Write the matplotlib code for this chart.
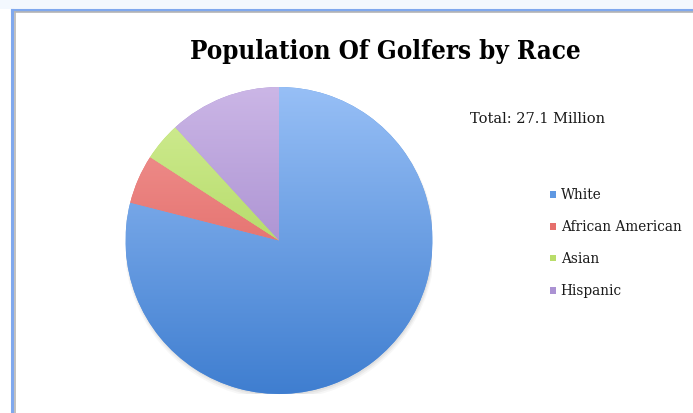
import numpy as np
import matplotlib.pyplot as plt
from matplotlib.colors import LinearSegmentedColormap
from matplotlib.lines import Line2D
from matplotlib.patches import Rectangle, Circle

races = ['White', 'African American', 'Asian', 'Hispanic']
golfers = [21.4, 1.4, 1.1, 3.2]   # millions
top_cols = ['#97bff6', '#f39a98', '#d3ee97', '#cbb6e6']
bot_cols = ['#3f7ed0', '#d9514d', '#9ccb42', '#9275c2']
mid_cols = ['#5f98e2', '#e66f6c', '#b9dd6a', '#ab92d3']

fig = plt.figure(figsize=(6.93, 4.14), dpi=100)

# window frame
fig.add_artist(Rectangle((0, 0.975), 1, 0.025, transform=fig.transFigure,
                         facecolor='#f3f8fe', edgecolor='none'))
fig.add_artist(Line2D([0.0166, 0.0166], [0, 0.9746], color='#7fa8ee', lw=2.2))
fig.add_artist(Line2D([0.0166, 1], [0.9746, 0.9746], color='#7fa8ee', lw=2.2))
fig.add_artist(Line2D([0.0211, 0.0211], [0, 0.9674], color='#b5b5b5', lw=1.2))
fig.add_artist(Line2D([0.0211, 1], [0.9674, 0.9674], color='#b5b5b5', lw=1.2))

ax = fig.add_axes([0.1811, 0.0459, 0.443, 0.7415])
# soft shadow
for k, a in enumerate([0.10, 0.08, 0.06]):
    ax.add_patch(Circle((0.005, -0.012 - 0.006 * k), 1.0 + 0.006 * k,
                        facecolor='#777777', edgecolor='none', alpha=a, zorder=0))
wedges, _ = ax.pie(golfers, startangle=90, counterclock=False,
                   colors=mid_cols, radius=1,
                   wedgeprops=dict(linewidth=0))
grad = np.linspace(1, 0, 256).reshape(-1, 1)
for w, t, b in zip(wedges, top_cols, bot_cols):
    cmap = LinearSegmentedColormap.from_list('g', [b, t])
    im = ax.imshow(grad, cmap=cmap, extent=[-1, 1, -1, 1], aspect='auto',
                   origin='upper', zorder=2)
    im.set_clip_path(w)
ax.set_xlim(-1.0, 1.0)
ax.set_ylim(-1.0, 1.0)
ax.set_aspect('equal')
ax.axis('off')

fig.text(0.556, 0.876, 'Population Of Golfers by Race', ha='center', va='center',
         fontsize=18.5, fontweight='bold', family='DejaVu Serif',
         fontstretch='condensed')
fig.text(0.678, 0.713, 'Total: 27.1 Million', ha='left', va='center',
         fontsize=10.5, family='DejaVu Serif', color='#1a1a1a')

ys = [0.529, 0.452, 0.375, 0.297]
for name, c, y in zip(races, mid_cols, ys):
    fig.add_artist(Rectangle((0.793, y - 0.009), 0.009, 0.016,
                             transform=fig.transFigure, facecolor=c,
                             edgecolor='none'))
    fig.text(0.809, y, name, ha='left', va='center', fontsize=9.8,
             family='DejaVu Serif', color='#1a1a1a')

fig.savefig('out.png', dpi=100)
